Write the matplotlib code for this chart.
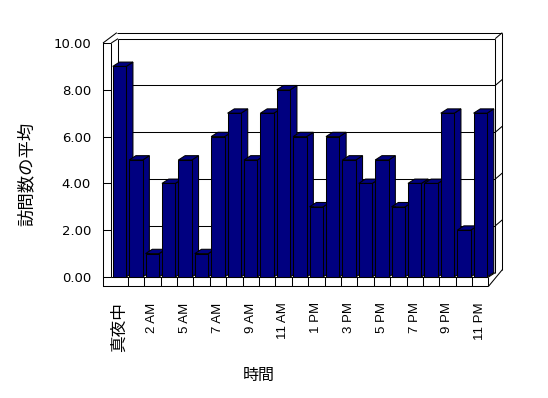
import matplotlib
matplotlib.use("Agg")
import matplotlib.pyplot as plt
from matplotlib.patches import Polygon, Rectangle

# data (23 categories, one early-morning hour missing)
hours = ['真夜中', '1 AM', '2 AM', '4 AM', '5 AM', '6 AM', '7 AM', '8 AM',
         '9 AM', '10 AM', '11 AM', '正午', '1 PM', '2 PM', '3 PM', '4 PM',
         '5 PM', '6 PM', '7 PM', '8 PM', '9 PM', '10 PM', '11 PM']
visits = [9, 5, 1, 4, 5, 1, 6, 7, 5, 7, 8, 6, 3, 6, 5, 4, 5, 3, 4, 4, 7, 2, 7]
yticks = [0, 2, 4, 6, 8, 10]

NAVY = '#000080'
LW = 0.75

# pixel layout of the original (category step / value step)
W, H = 548, 398
x0px, xstep = 119.5, 16.4
y0px, ystep = 277.0, 23.4
xlim = (-1.1, 23.5)
ylim = (-0.5, 10.6)

fig = plt.figure(figsize=(W / 100, H / 100), dpi=100)
left = x0px + xstep * xlim[0]
right = x0px + xstep * xlim[1]
bottom = y0px - ystep * ylim[0]
top = y0px - ystep * ylim[1]
ax = fig.add_axes([left / W, 1 - bottom / H, (right - left) / W, (bottom - top) / H])
ax.set_xlim(*xlim)
ax.set_ylim(*ylim)

# depth offsets (data units)
dx, dy = 0.41, 0.185      # bar / floor depth
tx, ty = 0.43, 0.256      # back wall thickness
wall_out = -1.006         # outer face of left wall
floor_bot = -0.4
n = len(visits)
xl, xr = -0.5, n - 0.5
wall_top = yticks[-1]

def line(xs, ys, z=1):
    ax.plot(xs, ys, color='black', lw=LW, zorder=z, solid_capstyle='butt',
            clip_on=False)

# back wall and gridlines
for v in yticks[1:-1]:
    line([xl + dx, xr + dx], [v + dy, v + dy], z=1)
    line([xr + dx, xr + dx + tx], [v + dy, v + dy + ty], z=1)
line([xl + dx, xr + dx], [wall_top + dy] * 2)
line([wall_out + dx + tx, xr + dx + tx], [wall_top + dy + ty] * 2)
line([xr + dx, xr + dx], [dy, wall_top + dy])
line([xr + dx + tx, xr + dx + tx], [dy + ty - 0.13, wall_top + dy + ty])
line([xr + dx, xr + dx + tx], [wall_top + dy, wall_top + dy + ty])

# left wall
line([xl, xl], [0, wall_top])
line([xl, xl + dx], [wall_top, wall_top + dy])
line([wall_out, wall_out + dx + tx], [wall_top, wall_top + dy + ty])
line([xl + dx, xl + dx], [dy, wall_top + dy])

# floor
line([xl, xr], [0, 0])
line([wall_out, xr], [floor_bot, floor_bot])
line([xr, xr], [floor_bot, 0])
line([xr, xr + dx], [0, dy])
line([xr, xr + dx + tx], [floor_bot, dy + ty - 0.13])
ax.vlines([k - 0.5 for k in range(1, n)], floor_bot, 0, color='black',
          lw=LW, zorder=1)

# 3D bars
bw = 0.82
for i, v in enumerate(visits):
    a, b = i - bw / 2, i + bw / 2
    z = 10 + i
    ax.add_patch(Polygon([(b, 0), (b + dx, dy), (b + dx, v + dy), (b, v)],
                         closed=True, facecolor=NAVY, edgecolor='black',
                         lw=LW, zorder=z))
    ax.add_patch(Polygon([(a, v), (b, v), (b + dx, v + dy), (a + dx, v + dy)],
                         closed=True, facecolor=NAVY, edgecolor='black',
                         lw=LW, zorder=z))
    ax.add_patch(Rectangle((a, 0), bw, v, facecolor=NAVY, edgecolor='black',
                           lw=LW, zorder=z))

# axes: left spine is the outer face of the left wall
for s in ['top', 'right', 'bottom']:
    ax.spines[s].set_visible(False)
ax.spines['left'].set_position(('data', wall_out))
ax.spines['left'].set_bounds(floor_bot, wall_top)
ax.spines['left'].set_linewidth(LW)
ax.patch.set_visible(False)

ax.set_yticks(yticks)
ax.set_yticklabels(['%.2f' % t for t in yticks], fontsize=9.5,
                   family='DejaVu Sans')
ax.tick_params(axis='y', direction='in', length=6, width=LW, pad=8.6)

ax.set_xticks(range(n))
ax.set_xticklabels([h if i % 2 == 0 else '' for i, h in enumerate(hours)],
                   rotation=90, va='top', ha='center')
ax.tick_params(axis='x', length=0, pad=9.8)
for i, lab in enumerate(ax.get_xticklabels()):
    if i == 0:
        lab.set_family(['Noto Sans CJK JP'])
        lab.set_fontsize(12)
    else:
        lab.set_family(['Liberation Sans', 'Noto Sans CJK JP'])
        lab.set_fontsize(9.5)

fig.text(259 / W, 1 - 375 / H, '時間', family=['Noto Sans CJK JP'],
         fontsize=11.5, ha='center', va='center')
fig.text(27 / W, 1 - 174 / H, '訪問数の平均', family=['Noto Sans CJK JP'],
         fontsize=12.5, rotation=90, ha='center', va='center')

fig.savefig('out.png', dpi=100)
